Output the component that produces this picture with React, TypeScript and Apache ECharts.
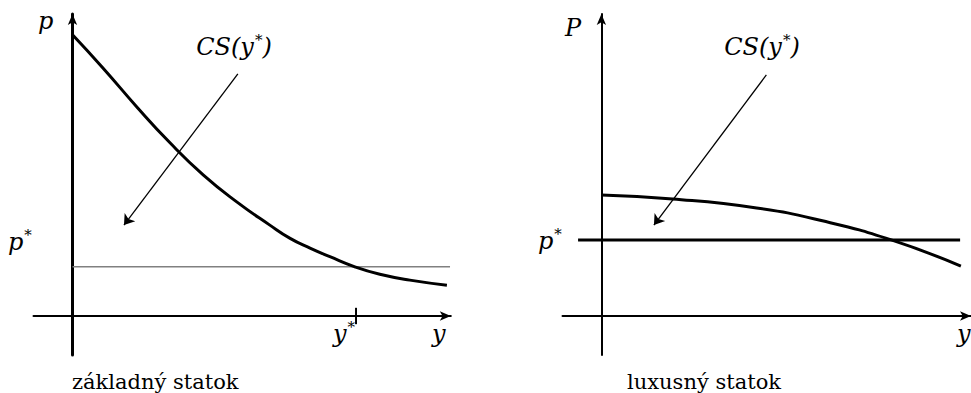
import React, { useEffect, useRef } from "react";
import * as echarts from "echarts";

// Left panel (základný statok): demand curve, price p*, quantity y*
const basicDemand: [number, number][] = [
  [0, 7.21], [0.78, 6.36], [1.65, 5.36], [2.5, 4.44], [3.35, 3.62], [4.22, 2.92],
  [5.06, 2.33], [5.58, 1.99], [6.09, 1.74], [6.6, 1.52], [7.24, 1.26], [7.88, 1.07],
  [8.65, 0.92], [9.6, 0.79],
];
const basicPrice: [number, number][] = [[0, 1.26], [9.68, 1.26]];
const basicYStar = 7.27;
const basicTick: [number, number][] = [[basicYStar, -0.21], [basicYStar, 0.21]];
const basicArrow: [number, number][] = [[4.24, 6.21], [1.32, 2.33]];

// Right panel (luxusný statok)
const luxDemand: [number, number][] = [
  [0, 3.1], [1.83, 3.0], [3.99, 2.77], [5.68, 2.44], [7.45, 1.95], [9.24, 1.28],
];
const luxPrice: [number, number][] = [[-0.6, 1.95], [9.22, 1.95]];
const luxArrow: [number, number][] = [[4.24, 6.18], [1.35, 2.33]];

const FONT = "DejaVu Serif";
const FS = 24;

export default function App() {
  const ref = useRef<HTMLDivElement>(null);
  useEffect(() => {
    if (!ref.current) return;
    const chart = echarts.init(ref.current, null, { renderer: "svg" });
    const axisCommon = {
      type: "value" as const,
      axisTick: { show: false },
      axisLabel: { show: false },
      splitLine: { show: false },
    };
    const xAxisLine = (w: number) => ({
      show: true,
      onZero: true,
      symbol: ["none", "arrow"],
      symbolSize: [7, 11],
      lineStyle: { color: "#000", width: w },
    });
    const mathRich = {
      m: { fontFamily: FONT, fontStyle: "italic", fontSize: FS, color: "#000", lineHeight: 30 },
      s: { fontFamily: FONT, fontSize: 15, color: "#000", verticalAlign: "top", lineHeight: 30, padding: [0, 0, 10, 1] },
    };
    const mathText = (txt: string, x: number, y: number, align = "left") => ({
      type: "text",
      x,
      y,
      style: {
        text: txt,
        textAlign: align,
        textVerticalAlign: "middle",
        rich: mathRich,
      },
    });
    const plainText = (txt: string, x: number, y: number) => ({
      type: "text",
      x,
      y,
      style: {
        text: txt,
        fontFamily: FONT,
        fontSize: 21,
        fill: "#000",
        textAlign: "left",
        textVerticalAlign: "middle",
      },
    });
    const lineSeries = (
      data: [number, number][],
      idx: number,
      width: number,
      color = "#000",
      smooth = true
    ) => ({
      type: "line",
      xAxisIndex: idx,
      yAxisIndex: idx,
      data,
      smooth,
      symbol: "none",
      lineStyle: { color, width },
      silent: true,
    });
    const arrowSeries = (coords: [number, number][], idx: number) => ({
      type: "lines",
      coordinateSystem: "cartesian2d",
      xAxisIndex: idx,
      yAxisIndex: idx,
      symbol: ["none", "arrow"],
      symbolSize: 10,
      lineStyle: { color: "#000", width: 1.3, opacity: 1 },
      data: [{ coords }],
      silent: true,
    });

    chart.setOption({
      animation: false,
      backgroundColor: "#fff",
      grid: [
        { left: 33.5, top: 14.1, width: 417.3, height: 340.9 },
        { left: 562.5, top: 14.1, width: 409.5, height: 340.9 },
      ],
      xAxis: [
        { ...axisCommon, gridIndex: 0, min: -1, max: 9.7, axisLine: xAxisLine(2) },
        { ...axisCommon, gridIndex: 1, min: -1, max: 9.5, axisLine: xAxisLine(2) },
      ],
      yAxis: [
        { ...axisCommon, gridIndex: 0, min: -1, max: 7.74, axisLine: xAxisLine(3) },
        { ...axisCommon, gridIndex: 1, min: -1, max: 7.74, axisLine: xAxisLine(2) },
      ],
      series: [
        lineSeries(basicPrice, 0, 1.5, "#808080", false),
        lineSeries(basicDemand, 0, 3),
        lineSeries(basicTick, 0, 2, "#000", false),
        arrowSeries(basicArrow, 0),
        lineSeries(luxPrice, 1, 3, "#000", false),
        lineSeries(luxDemand, 1, 3),
        arrowSeries(luxArrow, 1),
      ],
      graphic: [
        mathText("{m|p}", 38, 21),
        mathText("{m|CS(y}{s|*}{m|)}", 234, 47, "center"),
        mathText("{m|p}{s|*}", 8, 242),
        mathText("{m|y}{s|*}", 333, 334),
        mathText("{m|y}", 432, 334),
        plainText("základný statok", 72, 382),
        mathText("{m|P}", 565, 28),
        mathText("{m|CS(y}{s|*}{m|)}", 762, 47, "center"),
        mathText("{m|p}{s|*}", 538, 241),
        mathText("{m|y}", 957, 334),
        plainText("luxusný statok", 627, 382),
      ],
    });
    return () => chart.dispose();
  }, []);
  return (
    <div
      ref={ref}
      style={{ position: "fixed", left: 0, top: 0, width: 971, height: 393, background: "#fff" }}
    />
  );
}
